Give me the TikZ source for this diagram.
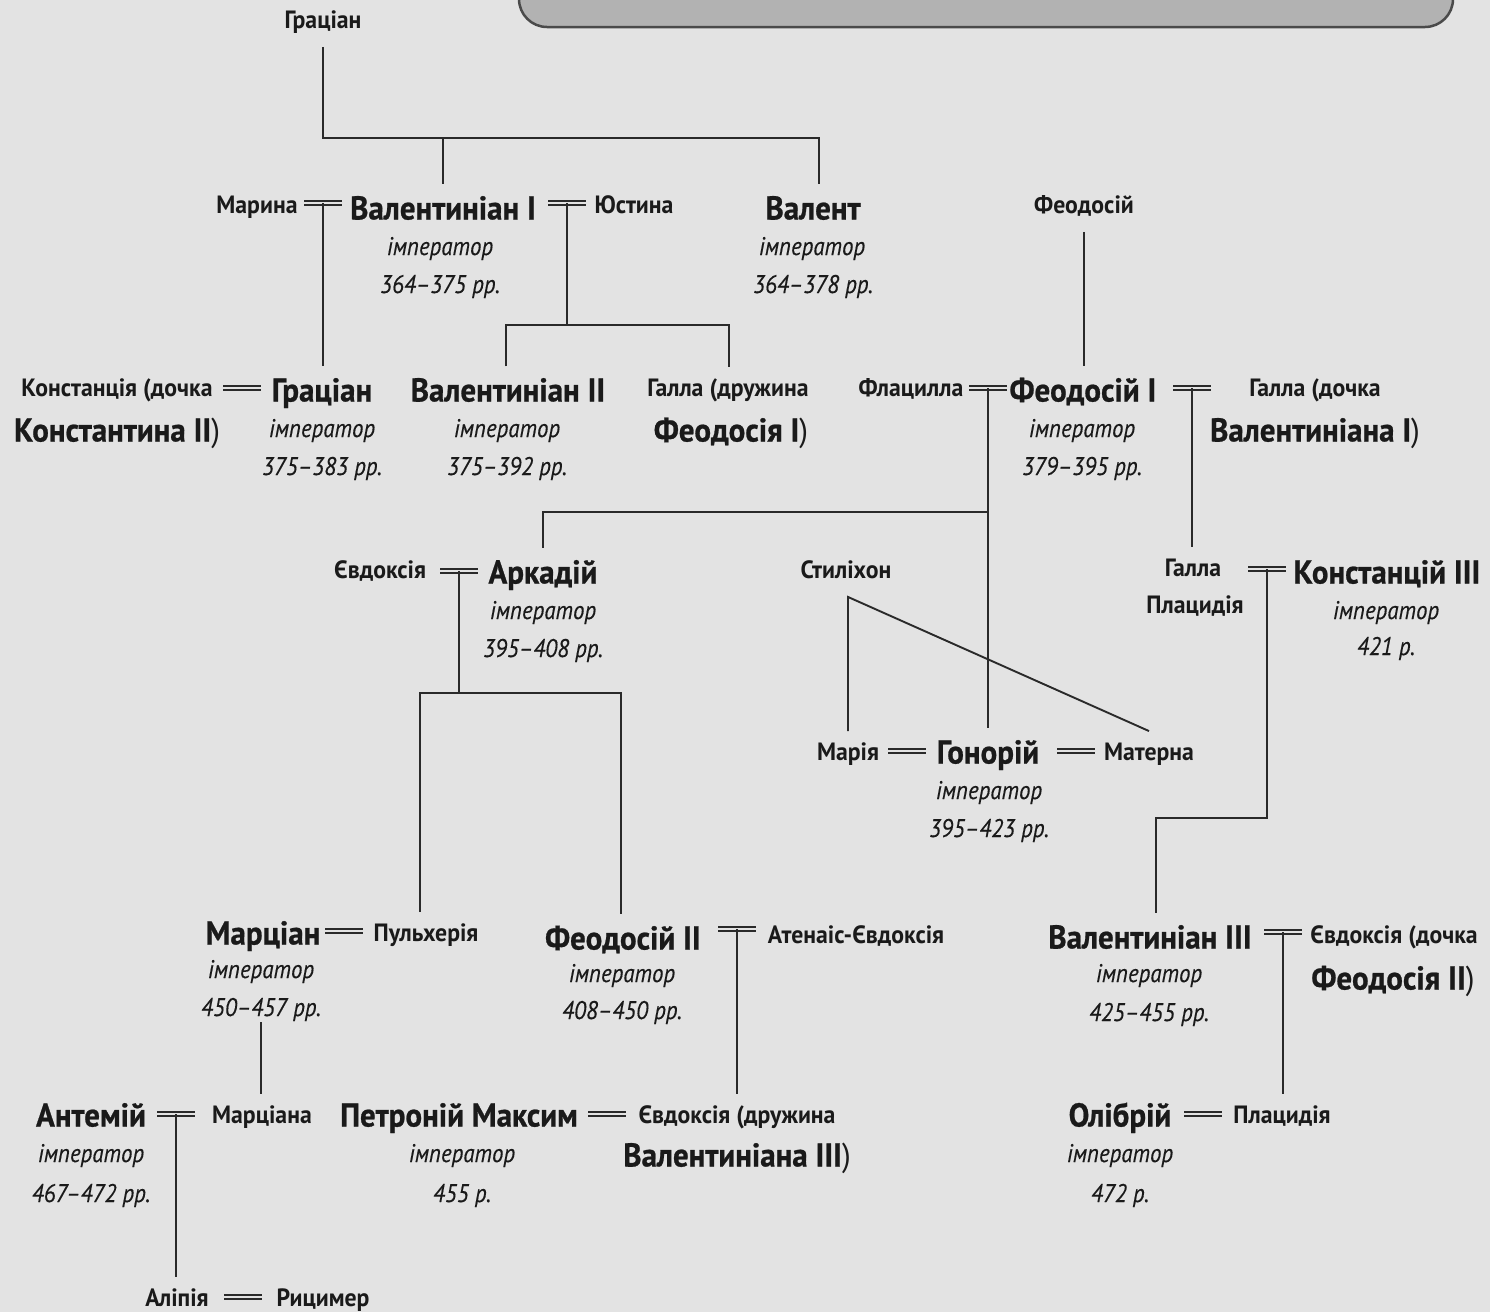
\documentclass[tikz,border=0pt]{standalone}
\usepackage{fontspec}
\setmainfont{PT Sans}[FakeStretch=0.95]
\newfontfamily\bigfam{PT Sans}[FakeStretch=0.94, BoldFeatures={FakeBold=0.7}]
\newfontfamily\itfam{PT Sans}[FakeStretch=0.9, ItalicFeatures={FakeBold=0.25}]
\usetikzlibrary{calc}
\definecolor{paper}{HTML}{E3E3E3}
\definecolor{ink}{HTML}{1A1A1A}
\definecolor{wire}{HTML}{2A2A2A}
\definecolor{boxfill}{HTML}{B2B2B2}
\definecolor{boxline}{HTML}{4A4A4A}
\begin{document}
\begin{tikzpicture}[x=1pt,y=-1pt,
  lin/.style={draw=wire, line width=1.9pt},
  bg/.style={font=\bigfam\bfseries\fontsize{33}{38}\selectfont, text=ink, anchor=base, yshift=-11.5pt,
             text height=33pt, text depth=8pt, inner xsep=1pt, inner ysep=2pt},
  sm/.style={font=\bfseries\fontsize{25}{30}\selectfont, text=ink, anchor=base, yshift=-8.75pt,
             text height=27.5pt, text depth=16pt, inner xsep=1pt, inner ysep=2pt},
  im/.style={font=\itfam\itshape\fontsize{25.5}{30}\selectfont, text=ink, anchor=base, yshift=-7pt,
             inner sep=1pt},
  dt/.style={font=\itfam\itshape\fontsize{25.5}{30}\selectfont, text=ink, anchor=base, yshift=-9pt,
             text depth=4pt, inner xsep=1pt, inner ysep=2pt},
  marr/.pic={\draw[lin, line width=2.1pt] (-19,-2.3) -- (19,-2.3) (-19,2.3) -- (19,2.3);}
]
\useasboundingbox (0,0) rectangle (1490,1312);
\fill[paper] (0,0) rectangle (1490,1312);
\begin{scope}
  \clip (0,0) rectangle (1490,1312);
  \draw[draw=boxline, fill=boxfill, line width=2.5pt, rounded corners=28pt] (519,-60) rectangle (1453,27);
\end{scope}

% ---- row 0
\node[sm] (grat0) at (323,20) {Граціан};
% ---- row 1
\node[sm] (marina) at (257,205) {Марина};
\node[bg] (valI) at (443,208) {Валентиніан I};
\node[im] (valIi) at (440,248) {імператор};
\node[dt] (valId) at (440,284) {364–375 рр.};
\node[sm] (justina) at (634,205) {Юстина};
\node[bg] (valens) at (813,208) {Валент};
\node[im] (valensi) at (812,248) {імператор};
\node[dt] (valensd) at (813,284) {364–378 рр.};
\node[sm] (feo0) at (1084,205) {Феодосій};
% ---- row 2
\node[sm] (konst1) at (117,388) {Констанція (дочка};
\node[bg] (konst2) at (117,430) {Константина II\mdseries)};
\node[bg] (grat) at (322,390) {Граціан};
\node[im] (grati) at (322,430) {імператор};
\node[dt] (gratd) at (322,466) {375–383 рр.};
\node[bg] (valII) at (508,390) {Валентиніан II};
\node[im] (valIIi) at (507,430) {імператор};
\node[dt] (valIId) at (507,466) {375–392 рр.};
\node[sm] (gallaW1) at (728,388) {Галла (дружина};
\node[bg] (gallaW2) at (731,430) {Феодосія I\mdseries)};
\node[sm] (flac) at (911,388) {Флацилла};
\node[bg] (feoI) at (1083,390) {Феодосій I};
\node[im] (feoIi) at (1082,430) {імператор};
\node[dt] (feoId) at (1082,466) {379–395 рр.};
\node[sm] (gallaD1) at (1315,388) {Галла (дочка};
\node[bg] (gallaD2) at (1315,430) {Валентиніана I\mdseries)};
% ---- row 3
\node[sm] (evd) at (380,570) {Євдоксія};
\node[bg] (ark) at (543,572) {Аркадій};
\node[im] (arki) at (543,612) {імператор};
\node[dt] (arkd) at (543,648) {395–408 рр.};
\node[sm] (stil) at (846,570) {Стиліхон};
\node[sm] (gp1) at (1193,568) {Галла};
\node[sm] (gp2) at (1195,605) {Плацидія};
\node[bg] (kIII) at (1387,572) {Констанцій III};
\node[im] (kIIIi) at (1386,612) {імператор};
\node[dt] (kIIId) at (1386,646) {421 р.};
% ---- row 4
\node[sm] (maria) at (848,752) {Марія};
\node[bg] (hon) at (988,752) {Гонорій};
\node[im] (honi) at (989,792) {імператор};
\node[dt] (hond) at (989,828) {395–423 рр.};
\node[sm] (materna) at (1149,752) {Матерна};
% ---- row 5
\node[bg] (marc) at (263,933) {Марціан};
\node[im] (marci) at (261,971) {імператор};
\node[dt] (marcd) at (261,1007) {450–457 рр.};
\node[sm] (pul) at (426,933) {Пульхерія};
\node[bg] (feoII) at (623,938) {Феодосій II};
\node[im] (feoIIi) at (622,975) {імператор};
\node[dt] (feoIId) at (622,1010) {408–450 рр.};
\node[sm] (aten) at (856,935) {Атенаіс-Євдоксія};
\node[bg] (valIII) at (1150,937) {Валентиніан III};
\node[im] (valIIIi) at (1149,975) {імператор};
\node[dt] (valIIId) at (1149,1012) {425–455 рр.};
\node[sm] (evdD1) at (1394,935) {Євдоксія (дочка};
\node[bg] (evdD2) at (1393,978) {Феодосія II\mdseries)};
% ---- row 6
\node[bg] (anth) at (91,1115) {Антемій};
\node[im] (anthi) at (91,1155) {імператор};
\node[dt] (anthd) at (91,1193) {467–472 рр.};
\node[sm] (marciana) at (262,1115) {Марціана};
\node[bg] (petr) at (459,1115) {Петроній Максим};
\node[im] (petri) at (462,1155) {імператор};
\node[dt] (petrd) at (462,1193) {455 р.};
\node[sm] (evdW1) at (737,1115) {Євдоксія (дружина};
\node[bg] (evdW2) at (737,1155) {Валентиніана III\mdseries)};
\node[bg] (olib) at (1120,1115) {Олібрій};
\node[im] (olibi) at (1120,1155) {імператор};
\node[dt] (olibd) at (1120,1193) {472 р.};
\node[sm] (plac) at (1282,1115) {Плацидія};
% ---- row 7
\node[sm] (alip) at (177,1298) {Аліпія};
\node[sm] (ric) at (323,1298) {Рицимер};

% ---- marriages
\coordinate (mMV) at (323,203);
\coordinate (mVJ) at (567,203);
\coordinate (mKG) at (242,388);
\coordinate (mFF) at (988,388);
\coordinate (mFG) at (1192,388);
\coordinate (mEA) at (459,571);
\coordinate (mGC) at (1267,569);
\coordinate (mMH) at (907,751);
\coordinate (mHM) at (1076,751);
\coordinate (mMP) at (344,931);
\coordinate (mFA) at (737,929);
\coordinate (mVE) at (1283,932);
\coordinate (mAM) at (176,1114);
\coordinate (mPE) at (607,1114);
\coordinate (mOP) at (1203,1114);
\coordinate (mAR) at (243,1297);
\foreach \m in {mMV,mVJ,mKG,mFF,mFG,mEA,mGC,mMH,mHM,mMP,mFA,mVE,mAM,mPE,mOP,mAR}
  \pic at (\m) {marr};

% ---- junction coordinates
\coordinate (bar1) at (0,138);
\coordinate (bar1R) at (819,138);
\coordinate (bar2) at (0,325);
\coordinate (bar2L) at (506,325);
\coordinate (bar2R) at (729,325);
\coordinate (bar3) at (0,512);
\coordinate (bar4L) at (420,693);
\coordinate (bar4R) at (621,693);
\coordinate (bar5R) at (1267,818);
\coordinate (bar5L) at (1156,818);

% ---- connectors
\draw[lin] (grat0.south) -- (grat0.south |- bar1) -- (bar1R) -- (bar1R |- valens.north);
\draw[lin] (valI.north |- bar1) -- (valI.north);
\draw[lin] (mMV) -- (mMV |- grat.north);
\draw[lin] (mVJ) -- (mVJ |- bar2);
\draw[lin] (bar2L |- valII.north) -- (bar2L) -- (bar2R) -- (bar2R |- gallaW1.north);
\draw[lin] (feo0.south) -- (feo0.south |- feoI.north);
\draw[lin] (mFF) -- (mFF |- hon.north);
\draw[lin] (mFF |- bar3) -- (ark.north |- bar3) -- (ark.north);
\draw[lin] (mFG) -- (mFG |- gp1.north);
\draw[lin] (mEA) -- (mEA |- bar4L);
\draw[lin] (bar4L |- pul.north) -- (bar4L) -- (bar4R) -- (bar4R |- feoII.north);
\draw[lin] (maria.north) -- (maria.north |- stil.south) -- (materna.north);
\draw[lin] (mGC) -- (bar5R) -- (bar5L) -- (bar5L |- valIII.north);
\draw[lin] (mFA) -- (mFA |- evdW1.north);
\draw[lin] (mVE) -- (mVE |- plac.north);
\draw[lin] (marcd.south) -- (marcd.south |- marciana.north);
\draw[lin] (mAM) -- (mAM |- alip.north);
\end{tikzpicture}
\end{document}
